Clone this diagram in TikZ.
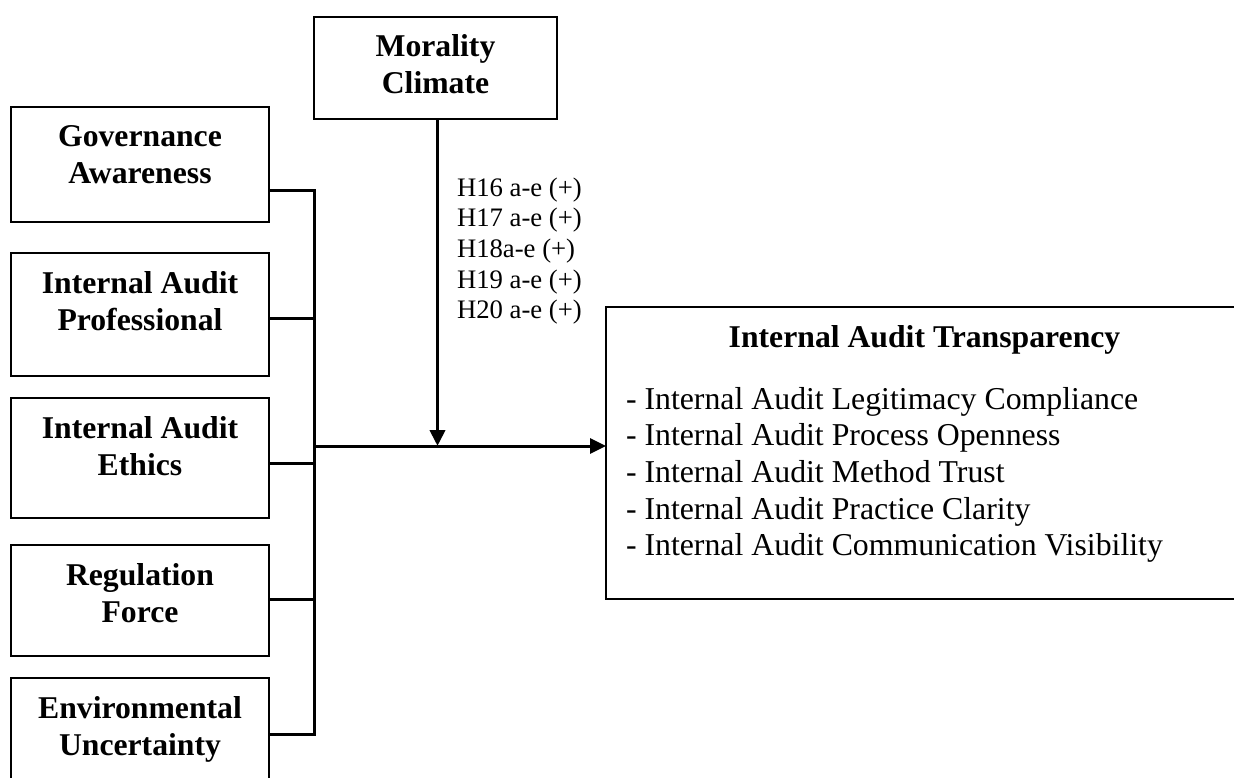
\documentclass[tikz,border=0pt]{standalone}
\usepackage{fontspec}
\setmainfont{Liberation Serif}
\usetikzlibrary{arrows.meta,positioning}
\begin{document}
\begin{tikzpicture}[x=1pt,y=-1pt,
  box/.style={draw=black, line width=1.3pt, inner sep=0pt, outer sep=0pt, anchor=north west},
  boxlabel/.style={anchor=north, inner sep=0pt, outer sep=0pt, align=center,
    font=\fontsize{31.7}{37}\selectfont\bfseries},
  hyplabel/.style={anchor=north west, inner sep=0pt, outer sep=0pt, align=left,
    font=\fontsize{26.7}{30.7}\selectfont},
  listlabel/.style={anchor=north west, inner sep=0pt, outer sep=0pt, align=left,
    font=\fontsize{31.8}{36.7}\selectfont},
  link/.style={line width=3pt},
  flow/.style={line width=3pt, -{Triangle[length=16pt,width=15pt]}},
  modflow/.style={line width=3.8pt, -{Triangle[length=16pt,width=15pt]}}
]
\useasboundingbox (0,0) rectangle (1234,778);
\clip (0,0) rectangle (1234,778);

% moderator
\node[box, minimum width=243pt, minimum height=102pt] (mc) at (314,17) {};
\node[boxlabel, below=8pt of mc.north] (mc-text) {\rule{0pt}{32pt}Morality\\Climate};

% independent constructs
\node[box, minimum width=258pt, minimum height=115pt] (ga) at (11,107) {};
\node[boxlabel, below=8pt of ga.north] (ga-text) {\rule{0pt}{32pt}Governance\\Awareness};

\node[box, minimum width=258pt, minimum height=123pt] (iap) at (11,253) {};
\node[boxlabel, below=8pt of iap.north] (iap-text) {\rule{0pt}{32pt}Internal Audit\\Professional};

\node[box, minimum width=258pt, minimum height=120pt] (iae) at (11,398) {};
\node[boxlabel, below=8pt of iae.north] (iae-text) {\rule{0pt}{32pt}Internal Audit\\Ethics};

\node[box, minimum width=258pt, minimum height=111pt] (rf) at (11,545) {};
\node[boxlabel, below=8pt of rf.north] (rf-text) {\rule{0pt}{32pt}Regulation\\Force};

\node[box, minimum width=258pt, minimum height=122pt] (eu) at (11,678) {};
\node[boxlabel, below=8pt of eu.north] (eu-text) {\rule{0pt}{32pt}Environmental\\Uncertainty};

% dependent construct
\node[box, line width=1.5pt, minimum width=637pt, minimum height=292pt] (iat) at (606,307) {};
\node[boxlabel, below=8pt of iat.north] (iat-title) {\rule{0pt}{32pt}Internal Audit Transparency};
\node[listlabel] (iat-list) at (626,377) {\rule{0pt}{32pt}- Internal Audit Legitimacy Compliance\\
  - Internal Audit Process Openness\\
  - Internal Audit Method Trust\\
  - Internal Audit Practice Clarity\\
  - Internal Audit Communication Visibility};

% hypotheses
\node[hyplabel] (hyp) at (457,169) {\rule{0pt}{27pt}H16 a-e (+)\\H17 a-e (+)\\H18a-e (+)\\H19 a-e (+)\\H20 a-e (+)};

% bus junctions
\coordinate (bus1) at (314,191);
\coordinate (bus2) at (314,318);
\coordinate (bus3) at (314,463);
\coordinate (bus4) at (314,599);
\coordinate (bus5) at (314,734);
\coordinate (hub) at (314,446);
\coordinate (mj) at (437.5,446);

\draw[link, line join=miter] (bus1 -| ga.east) -- (bus1) -- (bus5) -- (bus5 -| eu.east);
\draw[link] (bus2 -| iap.east) -- (bus2);
\draw[link] (bus3 -| iae.east) -- (bus3);
\draw[link] (bus4 -| rf.east) -- (bus4);

\draw[flow] (hub) -- (hub -| iat.west);
\draw[modflow] (mj |- mc.south) -- (mj);
\end{tikzpicture}
\end{document}
